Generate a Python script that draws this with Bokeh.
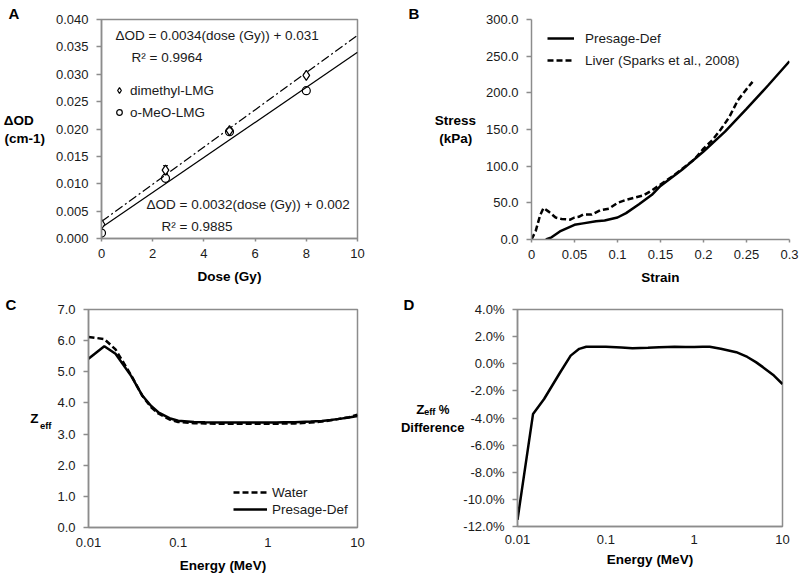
from bokeh.plotting import figure
from bokeh.layouts import column, row
from bokeh.models import (Range1d, FixedTicker, NumeralTickFormatter, PrintfTickFormatter,
                          Label, Legend, LegendItem, Whisker, TeeHead, ColumnDataSource,
                          LinearAxis)
from bokeh.embed import file_html
from bokeh.resources import INLINE

FONT = "Liberation Sans"
GRAY = "#8c8c8c"
TXT = "#1a1a1a"
NBSP = "\u00a0"

# ---------------- data ----------------
# Panel A
dose = [0, 2.5, 5, 8]
dimethyl_od = [0.0026, 0.0125, 0.0197, 0.0298]
dimethyl_err = [0.0004, 0.0008, 0.0003, 0.0003]
omeo_od = [0.0010, 0.0110, 0.0195, 0.0270]
fit_dose = [0, 10]
dimethyl_fit = (0.0034, 0.0031)   # slope, intercept
omeo_fit = (0.0032, 0.0020)
a_yticks = [0, 0.005, 0.01, 0.015, 0.02, 0.025, 0.03, 0.035, 0.04]
a_xticks = [0, 2, 4, 6, 8, 10]

# Panel B
presage_strain = [0.0167, 0.0233, 0.033, 0.05, 0.06, 0.075, 0.085, 0.1, 0.11, 0.125, 0.14,
                  0.15, 0.175, 0.2, 0.225, 0.25, 0.275, 0.3]
presage_stress = [0, 3, 11, 20, 22, 25, 26, 30, 36, 48, 61, 73, 95, 120, 147, 178, 210, 243]
liver_strain = [0, 0.005, 0.01, 0.014, 0.02, 0.028, 0.035, 0.045, 0.05, 0.055, 0.06, 0.07, 0.08,
                0.09, 0.1, 0.11, 0.12, 0.13, 0.14, 0.15, 0.165, 0.175, 0.19, 0.2, 0.21, 0.22,
                0.23, 0.24, 0.25, 0.257]
liver_stress = [0, 12, 33, 43, 38, 30, 28, 27, 30, 31, 34, 34, 40, 42, 50, 54, 57, 60, 67, 75,
                87, 96, 110, 124, 135, 150, 167, 190, 205, 215]
b_xticks = [0, 0.05, 0.1, 0.15, 0.2, 0.25, 0.3]
b_yticks = [0, 50, 100, 150, 200, 250, 300]

# Panel C / D
energy = [0.01, 0.015, 0.02, 0.03, 0.04, 0.05, 0.06, 0.08, 0.1, 0.15, 0.2, 0.3, 0.4, 0.5,
          0.6, 0.8, 1, 1.25, 1.5, 2, 3, 4, 5, 6, 8, 10]
water_zeff = [6.12, 6.05, 5.72, 4.88, 4.22, 3.86, 3.66, 3.47, 3.39, 3.35, 3.34, 3.33, 3.33,
              3.33, 3.33, 3.33, 3.33, 3.33, 3.34, 3.34, 3.37, 3.40, 3.44, 3.48, 3.54, 3.62]
presage_zeff = [5.42, 5.82, 5.58, 4.86, 4.23, 3.90, 3.70, 3.51, 3.43, 3.39, 3.38, 3.37, 3.37,
                3.37, 3.37, 3.37, 3.37, 3.37, 3.38, 3.38, 3.40, 3.42, 3.45, 3.48, 3.53, 3.58]
zeff_diff_pct = [-11.5, -3.7, -2.6, -0.7, 0.6, 1.1, 1.25, 1.25, 1.25, 1.2, 1.15, 1.18, 1.22,
                 1.24, 1.25, 1.24, 1.23, 1.25, 1.26, 1.1, 0.85, 0.5, 0.12, -0.25, -0.87, -1.5]
log_ticks = [0.01, 0.1, 1, 10]
c_yticks = [0, 1, 2, 3, 4, 5, 6, 7]
d_yticks = [-12, -10, -8, -6, -4, -2, 0, 2, 4]


def make_fig(letter, fw, fh, bl, br, bt, bb, xr, yr, xtype="linear", box=True, tstand=-5,
             letter_x=5):
    p = figure(title=letter, frame_width=fw, frame_height=fh, min_border_left=bl,
               min_border_right=br, min_border_top=bt, min_border_bottom=bb,
               x_range=Range1d(*xr), y_range=Range1d(*yr), x_axis_type=xtype,
               output_backend="svg", toolbar_location=None)
    p.title.align = "left"
    p.title.offset = -(bl - letter_x)
    p.title.standoff = tstand
    p.title.text_font = FONT
    p.title.text_font_size = "15px"
    p.title.text_font_style = "bold"
    p.title.text_color = "#000000"
    p.grid.visible = False
    p.outline_line_color = GRAY if box else None
    p.outline_line_width = 1.5
    p.background_fill_color = "white"
    p.border_fill_color = "white"
    for ax in (p.xaxis[0], p.yaxis[0]):
        ax.axis_line_color = GRAY
        ax.axis_line_width = 1.5
        ax.major_tick_line_color = GRAY
        ax.major_tick_line_width = 1.5
        ax.major_tick_in = 0
        ax.minor_tick_line_color = None
        ax.major_label_text_font = FONT
        ax.major_label_text_font_size = "13px"
        ax.major_label_text_color = TXT
        ax.axis_label_text_font = FONT
        ax.axis_label_text_font_style = "bold"
        ax.axis_label_text_font_size = "13.5px"
        ax.axis_label_text_color = "#000000"
    p.yaxis[0].major_tick_out = 5
    p.yaxis[0].major_label_standoff = 8
    p.yaxis[0].axis_label_orientation = "horizontal"
    p.yaxis[0].axis_label_text_align = "center"
    p.xaxis[0].major_tick_out = 3
    p.xaxis[0].major_label_standoff = 7
    p.xaxis[0].axis_label_standoff = 8
    return p


def text_axis(p, text, size, standoff):
    """An extra, tick-less left axis used only to hold a piece of the y title."""
    ax = LinearAxis(ticker=FixedTicker(ticks=[], minor_ticks=[]), axis_label=text)
    ax.axis_line_color = None
    ax.major_tick_line_color = None
    ax.minor_tick_line_color = None
    ax.major_tick_out = 0
    ax.major_tick_in = 0
    ax.minor_tick_out = 0
    ax.minor_tick_in = 0
    ax.major_label_standoff = 0
    ax.axis_label_orientation = "horizontal"
    ax.axis_label_standoff = standoff
    ax.axis_label_text_font = FONT
    ax.axis_label_text_font_style = "bold"
    ax.axis_label_text_font_size = size
    ax.axis_label_text_color = "#000000"
    p.add_layout(ax, "left")


def lab(p, x, y, text):
    p.add_layout(Label(x=x, y=y, x_units="screen", y_units="screen", text=text,
                       text_font=FONT, text_font_size="13.5px", text_color=TXT,
                       text_baseline="middle"))


def style_legend(lg, gw, gh, sp, standoff, loc):
    lg.location = loc
    lg.padding = 0
    lg.margin = 0
    lg.spacing = sp
    lg.glyph_width = gw
    lg.glyph_height = gh
    lg.label_height = gh
    lg.label_standoff = standoff
    lg.label_text_font = FONT
    lg.label_text_font_size = "13.5px"
    lg.label_text_color = TXT
    lg.border_line_color = None
    lg.background_fill_alpha = 0


# ---------------- Panel A ----------------
pa = make_fig("A", 256, 219, 98, 46, 19, 52, (0, 10), (0, 0.04), tstand=-5)
pa.xaxis[0].ticker = FixedTicker(ticks=a_xticks)
pa.yaxis[0].ticker = FixedTicker(ticks=a_yticks)
pa.yaxis[0].formatter = NumeralTickFormatter(format="0.000")
pa.xaxis[0].axis_label = "Dose (Gy)"
pa.yaxis[0].axis_label = "\u0394OD" + NBSP * 3 + "\n(cm-1)"
pa.yaxis[0].axis_label_standoff = 8

pa.line(fit_dose, [dimethyl_fit[0] * d + dimethyl_fit[1] for d in fit_dose],
        line_color="black", line_width=1.2, line_dash="9 3 2 3")
pa.line(fit_dose, [omeo_fit[0] * d + omeo_fit[1] for d in fit_dose],
        line_color="black", line_width=1.2)
err_src = ColumnDataSource(dict(x=dose, lo=[v - e for v, e in zip(dimethyl_od, dimethyl_err)],
                                hi=[v + e for v, e in zip(dimethyl_od, dimethyl_err)]))
pa.add_layout(Whisker(base="x", lower="lo", upper="hi", source=err_src, line_color="black",
                      line_width=1,
                      lower_head=TeeHead(size=5, line_color="black", line_width=1),
                      upper_head=TeeHead(size=5, line_color="black", line_width=1)))
r_dm = pa.scatter(dose, dimethyl_od, marker="diamond", size=10, fill_color="white",
                  line_color="black", line_width=1.2)
r_om = pa.scatter(dose, omeo_od, marker="circle", size=8, fill_color="white",
                  fill_alpha=0, line_color="black", line_width=1.2)
lga = Legend(items=[LegendItem(label="dimethyl-LMG", renderers=[r_dm]),
                    LegendItem(label="o-MeO-LMG", renderers=[r_om])])
style_legend(lga, 14, 20, 2, 4, (11, 116))
pa.add_layout(lga)
for x, y, t in [(14, 203, "\u0394OD = 0.0034(dose (Gy)) + 0.031"), (30, 181, "R\u00b2 = 0.9964"),
                (45, 34, "\u0394OD = 0.0032(dose (Gy)) + 0.002"), (60, 12, "R\u00b2 = 0.9885")]:
    lab(pa, x, y, t)

# ---------------- Panel B ----------------
pb = make_fig("B", 258, 220, 128, 14, 19, 51, (0, 0.3), (0, 300), box=False, tstand=-5)
pb.xaxis[0].ticker = FixedTicker(ticks=b_xticks)
pb.yaxis[0].ticker = FixedTicker(ticks=b_yticks)
pb.xaxis[0].formatter = NumeralTickFormatter(format="0.[00]")
pb.yaxis[0].formatter = NumeralTickFormatter(format="0.0")
pb.xaxis[0].axis_label = "Strain"
pb.yaxis[0].axis_label = "Stress\n(kPa)" + NBSP
pb.yaxis[0].axis_label_standoff = 7
r_ps = pb.line(presage_strain, presage_stress, line_color="black", line_width=2.5)
r_lv = pb.line(liver_strain, liver_stress, line_color="black", line_width=2.5, line_dash="6 3")
lgb = Legend(items=[LegendItem(label="Presage-Def", renderers=[r_ps]),
                    LegendItem(label="Liver (Sparks et al., 2008)", renderers=[r_lv])])
style_legend(lgb, 27, 20, 2, 11, (16, 169))
pb.add_layout(lgb)

# ---------------- Panel C ----------------
pc = make_fig("C", 269, 218, 88, 40, 19, 48, (0.01, 10), (0, 7), xtype="log", tstand=-6)
pc.xaxis[0].ticker = FixedTicker(ticks=log_ticks, minor_ticks=[])
pc.xaxis[0].formatter = NumeralTickFormatter(format="0.[00]")
pc.yaxis[0].ticker = FixedTicker(ticks=c_yticks)
pc.yaxis[0].formatter = NumeralTickFormatter(format="0.0")
pc.xaxis[0].major_tick_out = 0
pc.xaxis[0].major_label_standoff = 10
pc.xaxis[0].axis_label_standoff = 8
pc.xaxis[0].axis_label = "Energy (MeV)"
text_axis(pc, NBSP + "\neff", "9.5px", 3)     # subscript part of Z_eff
text_axis(pc, "Z", "13.5px", -2)
r_w = pc.line(energy, water_zeff, line_color="black", line_width=2.5, line_dash="6 3")
r_p = pc.line(energy, presage_zeff, line_color="black", line_width=2.5)
lgc = Legend(items=[LegendItem(label="Water", renderers=[r_w]),
                    LegendItem(label="Presage-Def", renderers=[r_p])])
style_legend(lgc, 34, 16, 1, 5, (145, 10))
pc.add_layout(lgc)

# ---------------- Panel D ----------------
pd_ = make_fig("D", 265, 217, 120, 18, 19, 49, (0.01, 10), (-12, 4), xtype="log", tstand=-7,
               letter_x=6)
pd_.xaxis[0].ticker = FixedTicker(ticks=log_ticks, minor_ticks=[])
pd_.xaxis[0].formatter = NumeralTickFormatter(format="0.[00]")
pd_.yaxis[0].ticker = FixedTicker(ticks=d_yticks)
pd_.yaxis[0].formatter = PrintfTickFormatter(format="%.1f%%")
pd_.xaxis[0].major_tick_out = 0
pd_.xaxis[0].major_label_standoff = 8
pd_.xaxis[0].axis_label_standoff = 5
pd_.xaxis[0].axis_label = "Energy (MeV)"
text_axis(pd_, "%\n" + NBSP, "12px", 11)
text_axis(pd_, "eff\n" + NBSP, "9.5px", 0)
text_axis(pd_, "Z\n" + NBSP, "13.5px", -4)
text_axis(pd_, NBSP + "\nDifference", "13px", -51)
pd_.line(energy, zeff_diff_pct, line_color="black", line_width=2.5)

layout = column(row(pa, pb), row(pc, pd_))
open("out.html", "w").write(file_html(layout, INLINE))
